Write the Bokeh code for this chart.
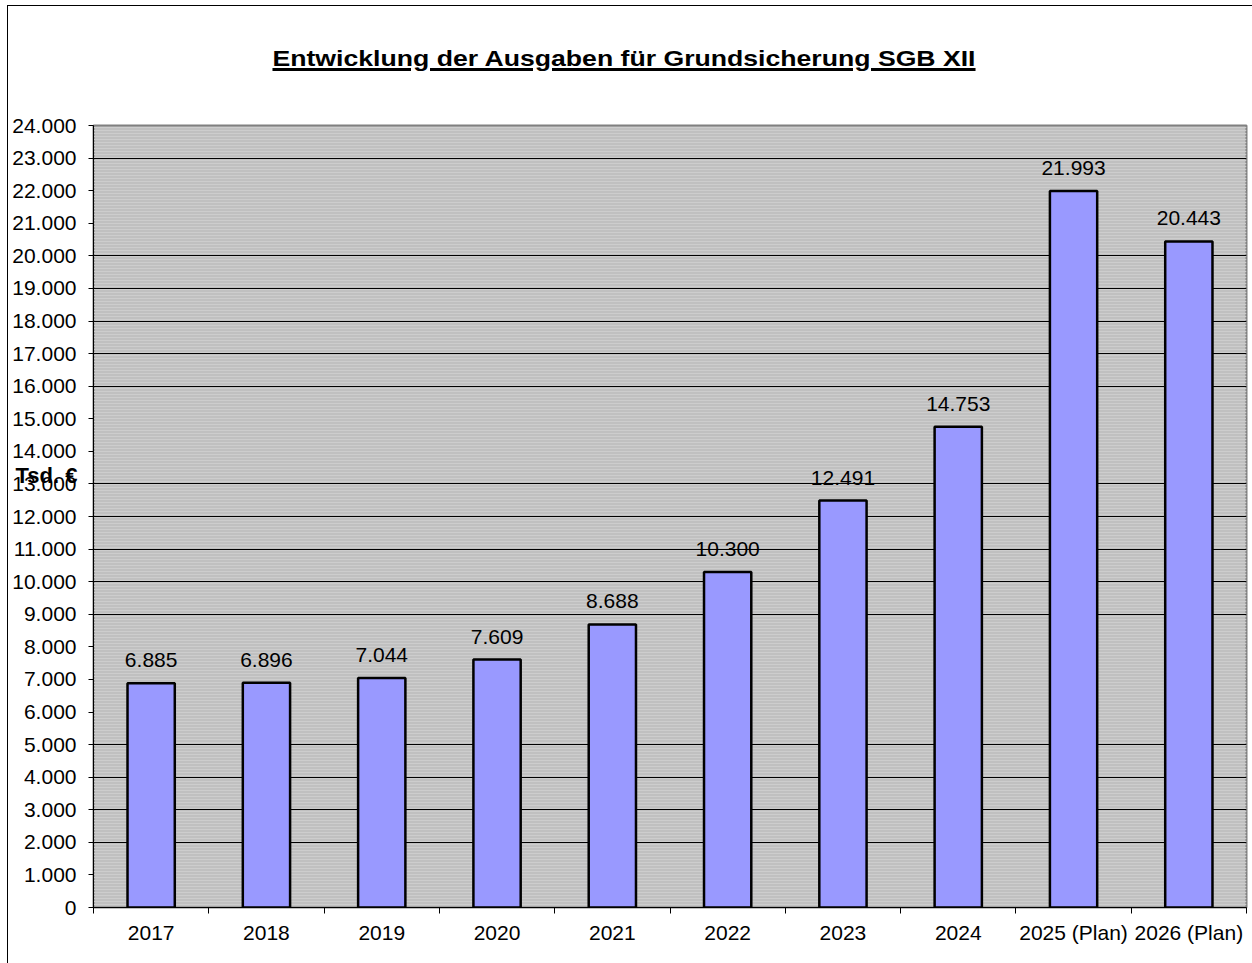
from bokeh.plotting import figure
from bokeh.models import (FixedTicker, BoxAnnotation, ColumnDataSource, Range1d, LinearAxis, Div)
from bokeh.layouts import column, row
from bokeh.embed import file_html
from bokeh.resources import INLINE

# ---- data ----
categories = ["2017", "2018", "2019", "2020", "2021", "2022", "2023", "2024", "2025 (Plan)", "2026 (Plan)"]
values = [6885, 6896, 7044, 7609, 8688, 10300, 12491, 14753, 21993, 20443]
y_ticks = list(range(0, 24001, 1000))
title_text = "Entwicklung der Ausgaben für Grundsicherung SGB XII"
y_label_text = "Tsd. €"

def fmt(v):
    return f"{v:,}".replace(",", ".")

FONT = "Liberation Sans"
W, H = 1252, 963
HEAD = 110          # height of the title strip
LEFT = 8            # width of the strip holding the left border line
N = len(categories)
YMAX = 24000

# ---- header: outer border + underlined title ----
header_html = (
    f'<div style="position:relative;width:{W}px;height:{HEAD}px;">'
    f'<div style="position:absolute;left:7px;top:5px;width:{W - 7}px;height:{HEAD - 5}px;'
    'border-left:1px solid #000;border-top:1px solid #000;box-sizing:border-box;"></div>'
    f'<div style="position:absolute;left:0;top:48px;width:1248px;text-align:center;'
    f"font-family:'{FONT}',Arial,sans-serif;font-size:22px;font-weight:bold;line-height:22px;"
    'color:#000;white-space:nowrap;transform:scaleX(1.21);transform-origin:624px 0;">'
    '<span style="text-decoration:underline;text-decoration-thickness:3px;'
    f'text-underline-offset:2px;">{title_text}</span></div>'
    '</div>'
)
header = Div(text=header_html, width=W, height=HEAD, margin=0)

left_strip = Div(text="", width=LEFT, height=H - HEAD, margin=0,
                 styles={"border-right": "1px solid #000", "box-sizing": "border-box"})

# ---- chart ----
xs = [i + 0.5 for i in range(N)]
src = ColumnDataSource(dict(x=xs, top=values, label=[fmt(v) for v in values]))

p = figure(width=W - LEFT, height=H - HEAD, output_backend="svg", toolbar_location=None,
           x_range=Range1d(0, N), y_range=Range1d(0, YMAX),
           min_border_left=93 - LEFT, min_border_top=125 - HEAD, min_border_right=6,
           min_border_bottom=56, margin=0)

p.background_fill_color = "#c0c0c0"
p.border_fill_color = "white"
p.outline_line_color = "#808080"
p.outline_line_width = 2

# stripes in the plot area
p.add_layout(BoxAnnotation(fill_alpha=0, line_alpha=0, hatch_pattern="horizontal_line",
                           hatch_color="#cdcdcd", hatch_scale=3, hatch_weight=1, hatch_alpha=1.0,
                           level="underlay"))

# grid
p.xgrid.grid_line_color = None
p.ygrid.ticker = FixedTicker(ticks=y_ticks)
p.ygrid.grid_line_color = "black"
p.ygrid.grid_line_width = 1

# y axis
p.yaxis.ticker = FixedTicker(ticks=y_ticks)
p.yaxis.major_label_overrides = {t: fmt(t) for t in y_ticks}
p.yaxis.major_tick_out = 5
p.yaxis.major_tick_in = 0
p.yaxis.minor_tick_line_color = None
p.yaxis.axis_line_color = "black"
p.yaxis.axis_line_width = 1
p.yaxis.major_label_text_font = FONT
p.yaxis.major_label_text_font_size = "21px"
p.yaxis.major_label_text_color = "black"
p.yaxis.major_label_standoff = 12

# x axis
p.xaxis.ticker = FixedTicker(ticks=xs, minor_ticks=list(range(N + 1)))
p.xaxis.major_label_overrides = {x: c for x, c in zip(xs, categories)}
p.xaxis.major_tick_line_color = None
p.xaxis.minor_tick_out = 6
p.xaxis.minor_tick_in = 0
p.xaxis.minor_tick_line_color = "black"
p.xaxis.axis_line_color = "black"
p.xaxis.major_label_text_font = FONT
p.xaxis.major_label_text_font_size = "21px"
p.xaxis.major_label_text_color = "black"
p.xaxis.major_label_standoff = 7

# bars
p.vbar(x="x", top="top", width=0.41, bottom=0, source=src,
       fill_color="#9999ff", line_color="black", line_width=2.5)

# value labels
p.text(x="x", y="top", text="label", source=src, y_offset=-16,
       text_align="center", text_baseline="bottom",
       text_font_size="21px", text_font={"value": FONT}, text_color="black")

# "Tsd. €" placed over the value axis labels via an extra, line-less axis
ty = 13250
unit_axis = LinearAxis(ticker=FixedTicker(ticks=[ty]), major_label_overrides={ty: y_label_text},
                       major_tick_out=0, major_tick_in=0, minor_tick_out=0, minor_tick_in=0,
                       major_tick_line_color=None, minor_tick_line_color=None, axis_line_color=None,
                       major_label_text_font=FONT, major_label_text_font_size="22px",
                       major_label_text_font_style="bold", major_label_text_color="black",
                       major_label_standoff=-68)
p.add_layout(unit_axis, "left")

layout = column(header, row(left_strip, p, spacing=0, margin=0), spacing=0, margin=0)

open("out.html", "w").write(file_html(layout, INLINE))
